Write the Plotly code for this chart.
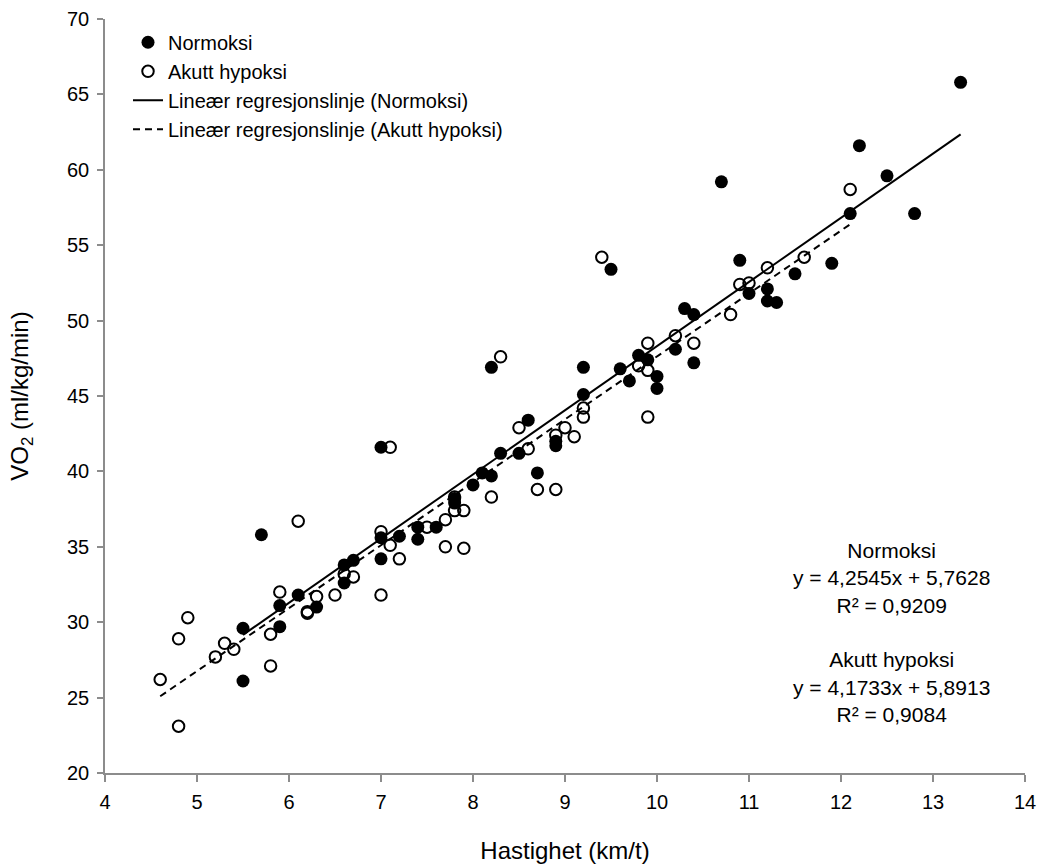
import plotly.graph_objects as go

# ---- data ----
norm_x = [5.5, 5.5, 5.7, 5.9, 5.9, 6.1, 6.3, 6.6, 6.6, 6.7, 7.0, 7.0, 7.0, 7.2, 7.4, 7.4, 7.6, 7.8, 7.8,
          8.0, 8.1, 8.2, 8.2, 8.3, 8.5, 8.6, 8.7, 8.9, 8.9, 9.2, 9.2, 9.5, 9.6, 9.7, 9.8, 9.9, 10.0, 10.0,
          10.2, 10.3, 10.4, 10.4, 10.7, 10.9, 11.0, 11.2, 11.2, 11.3, 11.5, 11.9, 12.1, 12.2, 12.5, 12.8, 13.3]
norm_y = [29.6, 26.1, 35.8, 31.1, 29.7, 31.8, 31.0, 33.8, 32.6, 34.1, 41.6, 35.6, 34.2, 35.7, 36.3, 35.5, 36.3, 38.2, 37.9,
          39.1, 39.9, 39.7, 46.9, 41.2, 41.2, 43.4, 39.9, 42.0, 41.7, 46.9, 45.1, 53.4, 46.8, 46.0, 47.7, 47.4, 46.3, 45.5,
          48.1, 50.8, 50.4, 47.2, 59.2, 54.0, 51.8, 52.1, 51.3, 51.2, 53.1, 53.8, 57.1, 61.6, 59.6, 57.1, 65.8]

hyp_x = [4.6, 4.8, 4.8, 4.9, 5.2, 5.3, 5.4, 5.8, 5.8, 5.9, 6.1, 6.2, 6.2, 6.3, 6.5, 6.6, 6.7, 7.0, 7.0,
         7.1, 7.1, 7.2, 7.5, 7.7, 7.7, 7.8, 7.8, 7.9, 7.9, 8.2, 8.3, 8.5, 8.6, 8.7, 8.9, 8.9, 9.0, 9.1,
         9.2, 9.2, 9.4, 9.8, 9.9, 9.9, 9.9, 10.2, 10.4, 10.8, 10.9, 11.0, 11.2, 11.6, 12.1]
hyp_y = [26.2, 28.9, 23.1, 30.3, 27.7, 28.6, 28.2, 29.2, 27.1, 32.0, 36.7, 30.7, 30.6, 31.7, 31.8, 33.2, 33.0, 36.0, 31.8,
         41.6, 35.1, 34.2, 36.3, 36.8, 35.0, 38.3, 37.4, 37.4, 34.9, 38.3, 47.6, 42.9, 41.5, 38.8, 42.4, 38.8, 42.9, 42.3,
         44.2, 43.6, 54.2, 47.0, 48.5, 46.7, 43.6, 49.0, 48.5, 50.4, 52.4, 52.5, 53.5, 54.2, 58.7]

# regression lines as printed on the chart
norm_slope, norm_icpt, norm_r2 = 4.2545, 5.7628, 0.9209
hyp_slope, hyp_icpt, hyp_r2 = 4.1733, 5.8913, 0.9084

x_ticks = [4, 5, 6, 7, 8, 9, 10, 11, 12, 13, 14]
y_ticks = [20, 25, 30, 35, 40, 45, 50, 55, 60, 65, 70]

FONT = "Liberation Sans, Arial, sans-serif"
AXIS_GREY = "#8c8c8c"


def fmt(v, d):
    return f"{v:.{d}f}".replace(".", ",")


nx = [min(norm_x), max(norm_x)]
hx = [min(hyp_x), max(hyp_x)]

fig = go.Figure()
fig.add_trace(go.Scatter(x=norm_x, y=norm_y, mode="markers", name="Normoksi",
                         marker=dict(symbol="circle", size=13, color="black")))
fig.add_trace(go.Scatter(x=hyp_x, y=hyp_y, mode="markers", name="Akutt hypoksi",
                         marker=dict(symbol="circle-open", size=11.5, color="black", line=dict(width=2, color="black"))))
fig.add_trace(go.Scatter(x=nx, y=[norm_slope * v + norm_icpt for v in nx], mode="lines",
                         name="Lineær regresjonslinje (Normoksi)", line=dict(color="black", width=2)))
fig.add_trace(go.Scatter(x=hx, y=[hyp_slope * v + hyp_icpt for v in hx], mode="lines",
                         name="Lineær regresjonslinje (Akutt hypoksi)",
                         line=dict(color="black", width=2, dash="7px,5px")))

ann_text = ("Normoksi<br>"
            f"y = {fmt(norm_slope, 4)}x + {fmt(norm_icpt, 4)}<br>"
            f"R² = {fmt(norm_r2, 4)}<br><br>"
            "Akutt hypoksi<br>"
            f"y = {fmt(hyp_slope, 4)}x + {fmt(hyp_icpt, 4)}<br>"
            f"R² = {fmt(hyp_r2, 4)}")
fig.add_annotation(x=12.55, y=29.3, xref="x", yref="y", text=ann_text, showarrow=False,
                   align="center", xanchor="center", yanchor="middle",
                   font=dict(family=FONT, size=21, color="black"))

fig.update_layout(
    width=1040, height=865,
    margin=dict(l=105, r=15, t=19, b=92),
    paper_bgcolor="white", plot_bgcolor="white",
    font=dict(family=FONT, size=20, color="black"),
    showlegend=True,
    legend=dict(x=0.025, y=0.995, xanchor="left", yanchor="top", bgcolor="rgba(0,0,0,0)",
                font=dict(family=FONT, size=20, color="black"), tracegroupgap=0),
    xaxis=dict(range=[4, 14], tickvals=x_ticks, ticktext=[str(v) for v in x_ticks],
               showline=True, linecolor=AXIS_GREY, linewidth=1.5, ticks="outside", ticklen=7,
               tickcolor=AXIS_GREY, tickwidth=1.5, showgrid=False, zeroline=False,
               ticklabelstandoff=3, automargin=False,
               title=dict(text="Hastighet (km/t)", standoff=30)),
    yaxis=dict(range=[20, 70], tickvals=y_ticks, ticktext=[str(v) for v in y_ticks],
               showline=True, linecolor=AXIS_GREY, linewidth=1.5, ticks="outside", ticklen=6,
               tickcolor=AXIS_GREY, tickwidth=1.5, showgrid=False, zeroline=False,
               ticklabelstandoff=4, automargin=False,
               title=dict(text="VO<sub>2</sub> (ml/kg/min)", standoff=32)),
)

fig.write_html("out.html")
